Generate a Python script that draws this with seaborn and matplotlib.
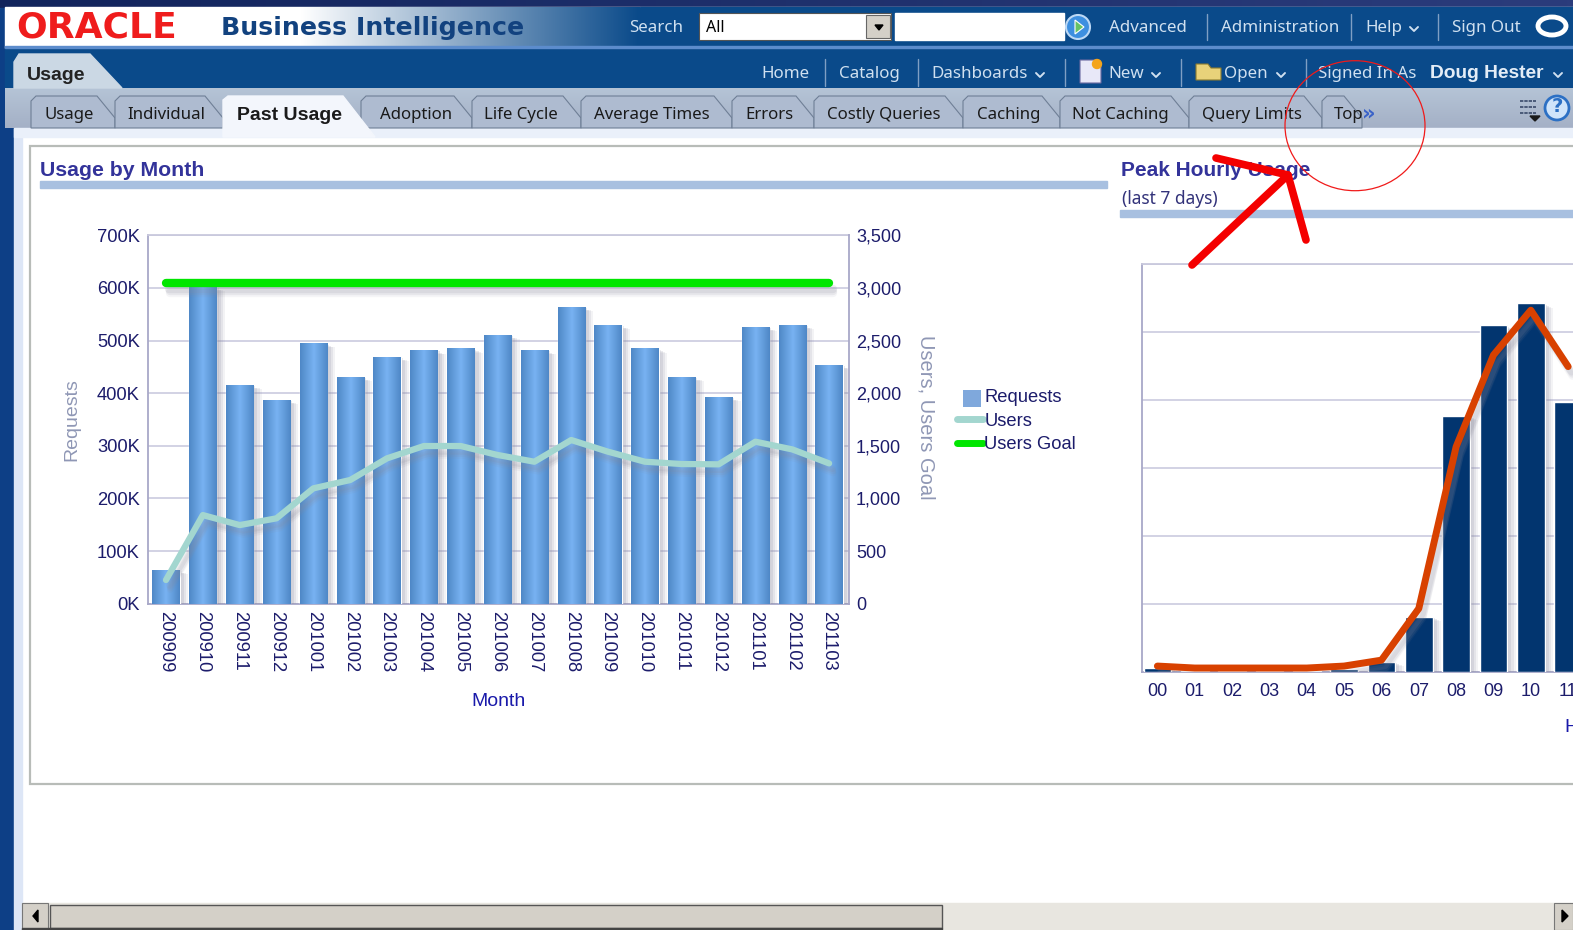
"""
Usage dashboard screenshot - Usage by Month / Peak Hourly Usage
"""

import numpy as np
import pandas as pd
import seaborn as sns
import matplotlib
matplotlib.use("Agg")
import matplotlib.pyplot as plt
import matplotlib.patheffects as pe
from matplotlib.colors import to_rgb
from matplotlib.legend_handler import HandlerPatch
from matplotlib.lines import Line2D
from matplotlib.patches import Ellipse, Patch, Polygon, Rectangle, Circle

W, H = 1573, 930

months = ["200909", "200910", "200911", "200912", "201001", "201002", "201003",
          "201004", "201005", "201006", "201007", "201008", "201009", "201010",
          "201011", "201012", "201101", "201102", "201103"]
requests = [64000, 602000, 416000, 387000, 495000, 431000, 469000, 482000, 485000,
            511000, 482000, 564000, 530000, 485000, 431000, 393000, 526000, 530000, 454000]
users = [225, 842, 747, 811, 1096, 1175, 1381, 1498, 1498, 1413, 1349, 1555, 1444,
         1349, 1327, 1324, 1539, 1466, 1333]
users_goal = [3044] * len(months)
requests_ticks = [0, 100000, 200000, 300000, 400000, 500000, 600000, 700000]
requests_labels = ["0K", "100K", "200K", "300K", "400K", "500K", "600K", "700K"]
users_ticks = [0, 500, 1000, 1500, 2000, 2500, 3000, 3500]
users_labels = ["0", "500", "1,000", "1,500", "2,000", "2,500", "3,000", "3,500"]

hours = ["00", "01", "02", "03", "04", "05", "06", "07", "08", "09", "10", "11"]
hourly_bars = [0.06, 0.015, 0.015, 0.01, 0.01, 0.035, 0.147, 0.81, 3.77, 5.10, 5.42, 3.97]
hourly_line = [0.083, 0.054, 0.054, 0.054, 0.054, 0.083, 0.17, 0.93, 3.31, 4.66, 5.32, 4.49]

top_links = [("Search", 629), ("Advanced", 1109), ("Administration", 1221), ("Help", 1365), ("Sign Out", 1452)]
nav_links = [("Home", 761), ("Catalog", 839), ("Dashboards", 931), ("New", 1108), ("Open", 1224), ("Signed In As", 1318)]
tab_names = ["Usage", "Individual", "Past Usage", "Adoption", "Life Cycle", "Average Times", "Errors",
             "Costly Queries", "Caching", "Not Caching", "Query Limits", "Top"]
tab_edges = [31, 115, 223, 361, 472, 581, 732, 814, 963, 1060, 1189, 1322, 1362]
tab_text_x = [44, 127, 237, 380, 484, 594, 745, 827, 977, 1072, 1202, 1334]

UI_FONT = "Noto Sans"
BOLD_FONT = "Liberation Sans"
CHART_FONT = "Liberation Sans"
NAVY_TEXT = "#1c1c6b"
AXIS_LINE = "#a8a8c8"
TOP_LINE = "#c9c9dd"
GRID_LINE = "#d2d2e4"

sns.set_theme(style="white")
plt.rcParams["font.family"] = [CHART_FONT, "DejaVu Sans"]
plt.rcParams["axes.unicode_minus"] = False

fig = plt.figure(figsize=(W / 100, H / 100), dpi=100, facecolor="white")


def px_axes(left, top, right, bottom, **kw):
    return fig.add_axes([left / W, 1 - bottom / H, (right - left) / W, (bottom - top) / H], **kw)


def gradient(ax, x0, y0, x1, y1, c0, c1, horizontal=False, zorder=1):
    t = np.linspace(0, 1, 128)[:, None]
    arr = (1 - t)[:, :, None] * np.array(to_rgb(c0)) + t[:, :, None] * np.array(to_rgb(c1))
    if horizontal:
        arr = arr.transpose(1, 0, 2)
    return ax.imshow(arr, extent=(x0, x1, y1, y0), aspect="auto", zorder=zorder, interpolation="bilinear")


def chevron(ax, x, y, color="#cfe0f0"):
    ax.plot([x - 4, x, x + 4], [y - 2, y + 2, y - 2], color=color, lw=1.4, zorder=6)


def ui_text(ax, x, y, s, size=12.2, color="#cfe0f0", weight="normal", family=UI_FONT, **kw):
    ax.text(x, y, s, fontsize=size, color=color, fontweight=weight, family=family, va="center", ha=kw.pop("ha", "left"), zorder=7, **kw)


def soft_shadow(color="#8e8ea2"):
    # stacked offsets stand in for the blurred drop shadow
    steps = [(6, -3, 0.10), (4.5, -2.5, 0.14), (3, -2, 0.18), (1.5, -1, 0.2)]
    return [pe.SimplePatchShadow(offset=(dx, dy), shadow_rgbFace=color, alpha=a) for dx, dy, a in steps] + [pe.Normal()]


def soft_line_shadow(color="#8a8a9a"):
    steps = [(3, -7, 0.08), (3, -5.5, 0.12), (2.5, -4, 0.14)]
    return [pe.SimpleLineShadow(offset=(dx, dy), shadow_color=color, alpha=a) for dx, dy, a in steps] + [pe.Normal()]


def small_square(legend, orig_handle, xdescent, ydescent, width, height, fontsize):
    return Rectangle((width * 0.22, -3), width * 0.72, 12)


# ── Page chrome ───────────────────────────────────────────────────────────
bg = fig.add_axes([0, 0, 1, 1], zorder=0)
bg.axis("off")

gradient(bg, 0, 0, W, 8, "#12245c", "#2b3c7c", horizontal=True, zorder=1)
bg.add_patch(Rectangle((0, 8), 14, H, color="#0d3f86", zorder=1))
bg.add_patch(Rectangle((14, 128), 8, H, color="#dde6f6", zorder=1))
bg.add_patch(Rectangle((5, 7), W, 41, color="white", zorder=1))
gradient(bg, 300, 7, 640, 48, "#ffffff", "#0a4a8a", horizontal=True, zorder=2)
bg.add_patch(Rectangle((640, 7), W, 41, color="#0a4a8a", zorder=2))
bg.add_patch(Rectangle((5, 46), W, 2.5, color="#5c8ccc", zorder=3))
bg.add_patch(Rectangle((5, 48), W, 40, color="#0a4a8a", zorder=2))
gradient(bg, 5, 88, W, 128, "#b5c4d6", "#a4b0c6", zorder=2)
bg.add_patch(Rectangle((14, 128), W, 9, color="#eaf0fa", zorder=3))

ui_text(bg, 16, 28, "ORACLE", size=26, color="#ef1c1c", weight="bold", family="DejaVu Sans")
ui_text(bg, 221, 28, "Business Intelligence", size=18.2, color="#12427f", weight="bold", family="DejaVu Sans")

for label, x in top_links:
    ui_text(bg, x, 28.5, label)
for label, x in nav_links:
    ui_text(bg, x, 74, label)
ui_text(bg, 1430, 74, "Doug Hester", size=13.8, weight="bold", color="#e4edf7", family=BOLD_FONT)
for x in [1207, 1351, 1438]:
    bg.plot([x, x], [14, 40], color="#7f9fc4", lw=1, zorder=5)
for x in [825, 918, 1065, 1181, 1306]:
    bg.plot([x, x], [59, 86], color="#7f9fc4", lw=1, zorder=5)
for x, y in [(1414, 29), (1040, 75), (1156, 75), (1281, 75), (1558, 75)]:
    chevron(bg, x, y)

# search box
bg.add_patch(Rectangle((699, 13), 192, 27, fc="white", ec="#555555", lw=0.8, zorder=4))
bg.add_patch(Rectangle((866, 15), 24, 23, fc="#d4d0c8", ec="#666666", lw=0.8, zorder=5))
bg.add_patch(Polygon([[875, 25], [883, 25], [879, 30]], color="black", zorder=6))
bg.add_patch(Rectangle((895, 13), 169, 27, color="white", zorder=4))
ui_text(bg, 706, 28, "All", color="black", size=11.5)
bg.add_patch(Circle((1078, 27), 12, fc="#3d8fe0", ec="#bcd8f5", lw=1.5, zorder=5))
bg.add_patch(Polygon([[1075, 20], [1075, 34], [1084, 27]], fc="#66c266", ec="white", lw=0.8, zorder=6))
bg.add_patch(Ellipse((1552, 26), 28, 18, fc="none", ec="white", lw=3.5, zorder=6))

# new / open icons
bg.add_patch(Polygon([[1080, 60], [1096, 60], [1101, 66], [1101, 83], [1080, 83]], fc="#e8e8f8", ec="#6a6aa0", lw=0.8, zorder=5))
bg.add_patch(Circle((1097, 64), 4.5, color="#f4a41c", zorder=6))
bg.add_patch(Polygon([[1196, 64], [1208, 64], [1211, 68], [1221, 68], [1221, 80], [1196, 80]], fc="#e8d27a", ec="#8a7a30", lw=0.8, zorder=5))

# outer "Usage" tab
bg.add_patch(Polygon([[14, 88], [14, 62], [19, 54], [90, 54], [122, 88]], color="#cbd8e4", zorder=3))
ui_text(bg, 27, 76, "Usage", size=14, color="#222222", weight="bold", family=BOLD_FONT)

# sub tabs
for i, name in enumerate(tab_names):
    x0, x1 = tab_edges[i], tab_edges[i + 1]
    active = name == "Past Usage"
    if active:
        bg.add_patch(Polygon([[x0, 137], [x0, 100], [x0 + 5, 96], [x1 - 18, 96], [x1 + 14, 137]], color="#f3f6fc", zorder=4))
        ui_text(bg, tab_text_x[i], 115, name, size=14, color="#1a1a1a", weight="bold", family=BOLD_FONT)
    else:
        bg.add_patch(Polygon([[x0, 128], [x0, 101], [x0 + 5, 96], [x1 - 18, 96], [x1, 118], [x1, 128]],
                             fc="#aebbd0", ec="#6f7f96", lw=0.8, zorder=3))
        ui_text(bg, tab_text_x[i], 115, name, size=12.1, color="#1a1a1a")
ui_text(bg, 1362, 113, "»", size=15, color="#3a62c8", weight="bold", family="DejaVu Sans")
bg.add_patch(Circle((1557, 108), 12, fc="#cfe4fa", ec="#2c70c4", lw=2, zorder=5))
ui_text(bg, 1557, 107, "?", size=14, color="#2c70c4", weight="bold", ha="center", family="DejaVu Sans")
for y in [101, 107, 113]:
    bg.plot([1520, 1536], [y, y], color="#3a4a6a", lw=1.2, ls=(0, (2, 0.6)), zorder=5)
bg.add_patch(Polygon([[1530, 116], [1540, 116], [1535, 121]], color="#1a1a1a", zorder=6))

# dashboard panel
bg.add_patch(Rectangle((30, 146), W, 638, fc="white", ec="#b8bcb8", lw=1.6, zorder=3))
ui_text(bg, 40, 170, "Usage by Month", size=15.3, color="#33339a", weight="bold", family=BOLD_FONT)
bg.add_patch(Rectangle((40, 181.5), 1067, 7, color="#a8c0e0", zorder=4))
ui_text(bg, 1121, 170, "Peak Hourly Usage", size=15, color="#33339a", weight="bold", family=BOLD_FONT)
ui_text(bg, 1122, 199, "(last 7 days)", size=12.5, color="#33337a")
bg.add_patch(Rectangle((1120, 210), W, 7, color="#a8c0e0", zorder=4))

# scrollbar
bg.add_patch(Rectangle((22, 903), W, 27, color="#e8e6e0", zorder=4))
bg.add_patch(Rectangle((22, 903), 26, 27, fc="#d4d0c8", ec="#777777", lw=0.8, zorder=5))
bg.add_patch(Rectangle((50, 905), 892, 23, fc="#d4d0c8", ec="#555555", lw=1, zorder=5))
bg.add_patch(Rectangle((1554, 903), 19, 27, fc="#d4d0c8", ec="#777777", lw=0.8, zorder=5))
bg.add_patch(Rectangle((22, 927.5), 920, 2.5, color="#444444", zorder=6))
bg.add_patch(Polygon([[38, 910], [38, 922], [33, 916]], color="black", zorder=6))
bg.add_patch(Polygon([[1562, 910], [1562, 922], [1568, 916]], color="black", zorder=6))

bg.set_xlim(0, W)
bg.set_ylim(H, 0)

# ── Usage by Month ────────────────────────────────────────────────────────
df = pd.DataFrame({"month": months, "requests": requests, "users": users, "goal": users_goal})
ax = px_axes(148.3, 235.3, 849, 603.7, zorder=2)
ax.set_facecolor("none")
sns.barplot(data=df, x="month", y="requests", color="#6ea5e2", width=0.74, saturation=1, ax=ax, zorder=3)
for bar in ax.patches:
    bar.set_path_effects(soft_shadow())
    x0, w = bar.get_x(), bar.get_width()
    im = gradient(ax, x0, bar.get_height(), x0 + w, 0, "#4c86c4", "#4c86c4", horizontal=True, zorder=3.1)
    t = np.abs(np.linspace(-1, 1, 64))[None, :, None]
    im.set_data((1 - t) * np.array(to_rgb("#78b2f2")) + t * np.array(to_rgb("#4f88c6")))
    im.set_clip_path(bar)
ax.set_xlim(-0.48, 18.54)
ax.set_ylim(0, 700000)
ax.set_yticks(requests_ticks, requests_labels)
ax.yaxis.grid(True, color=GRID_LINE, lw=1.4, zorder=0)
ax.set_axisbelow(True)
ax.tick_params(axis="y", length=0, pad=6, labelsize=13.2, labelcolor=NAVY_TEXT)
ax.tick_params(axis="x", length=0, pad=5, labelsize=13.2, labelcolor=NAVY_TEXT, labelrotation=270)
for spine in ["left", "bottom"]:
    ax.spines[spine].set_color(AXIS_LINE)
    ax.spines[spine].set_linewidth(1.3)
ax.spines["top"].set_color(TOP_LINE)
ax.spines["top"].set_linewidth(1.3)
ax.spines["right"].set_visible(False)
ax.set_xlabel("Month", fontsize=14, color="#1a1aaa", labelpad=15)
ax.set_ylabel("Requests", fontsize=14, color="#8f97b5", labelpad=12)

ax2 = ax.twinx()
ax2.set_zorder(3)
ax2.set_facecolor("none")
sns.lineplot(data=df, x="month", y="users", color="#a3d6cf", lw=4.5, ax=ax2, path_effects=soft_line_shadow(), solid_capstyle="round")
sns.lineplot(data=df, x="month", y="goal", color="#00e600", lw=6, ax=ax2, path_effects=soft_line_shadow(), solid_capstyle="round")
ax2.set_xlim(-0.48, 18.54)
ax2.set_ylim(0, 3500)
ax2.set_yticks(users_ticks, users_labels)
ax2.tick_params(axis="y", length=0, pad=5, labelsize=13, labelcolor=NAVY_TEXT)
for spine in ["left", "bottom", "top"]:
    ax2.spines[spine].set_visible(False)
ax2.spines["right"].set_color(AXIS_LINE)
ax2.spines["right"].set_linewidth(1.3)
ax2.set_ylabel("Users, Users Goal", fontsize=14.5, color="#8f97b5", rotation=270, labelpad=25, y=0.505)

handles = [Patch(fc="#7fa8dc", ec="none"),
           Line2D([], [], color="#a3d6cf", lw=5, solid_capstyle="round"),
           Line2D([], [], color="#00e600", lw=5, solid_capstyle="round")]
ax2.legend(handles, ["Requests", "Users", "Users Goal"], frameon=False, fontsize=13.2, labelcolor=NAVY_TEXT,
           handlelength=1.4, handletextpad=0.1, labelspacing=0.34, borderpad=0, borderaxespad=0,
           handler_map={Patch: HandlerPatch(patch_func=small_square)},
           loc="upper left", bbox_to_anchor=((957 - 148.3) / 700.7, (603.7 - 389.5) / 368.4))

# ── Peak Hourly Usage ─────────────────────────────────────────────────────
hr = pd.DataFrame({"hour": hours, "bars": hourly_bars, "line": hourly_line})
ax3 = px_axes(1141.7, 264, W, 671.7, zorder=2)
ax3.set_facecolor("none")
sns.barplot(data=hr, x="hour", y="bars", color="#02356f", width=0.74, saturation=1, ax=ax3, zorder=3)
for bar in ax3.patches:
    bar.set_path_effects(soft_shadow())
sns.lineplot(data=hr, x="hour", y="line", color="#d84100", lw=5, ax=ax3, zorder=4, path_effects=soft_line_shadow())
ax3.set_xlim(-0.42, 11.13)
ax3.set_ylim(0, 6)
ax3.set_yticks(range(7))
ax3.set_yticklabels([])
ax3.yaxis.grid(True, color=GRID_LINE, lw=1.4, zorder=0)
ax3.set_axisbelow(True)
ax3.tick_params(axis="both", length=0)
ax3.tick_params(axis="x", pad=8, labelsize=13, labelcolor=NAVY_TEXT)
for spine in ["left", "bottom"]:
    ax3.spines[spine].set_color(AXIS_LINE)
    ax3.spines[spine].set_linewidth(1.3)
ax3.spines["top"].set_color(TOP_LINE)
ax3.spines["top"].set_linewidth(1.3)
ax3.spines["right"].set_visible(False)
ax3.set_xlabel("")
ax3.set_ylabel("")

# ── Red markup on top ─────────────────────────────────────────────────────
top = fig.add_axes([0, 0, 1, 1], zorder=10)
top.patch.set_visible(False)
top.axis("off")
top.plot([1192, 1288], [265, 175], color="#f40000", lw=5.5, solid_capstyle="round")
top.plot([1216, 1288, 1306], [158, 175, 240], color="#f40000", lw=5.5, solid_capstyle="round", solid_joinstyle="round")
top.add_patch(Ellipse((1355, 125.7), 140, 130, fc="none", ec="#f01a1a", lw=0.9))
top.text(1564, 727, "H", fontsize=14, color="#1a1aaa", va="center", ha="left", family=CHART_FONT, clip_on=True)
top.set_xlim(0, W)
top.set_ylim(H, 0)

fig.savefig("out.png", dpi=100)
plt.close(fig)
